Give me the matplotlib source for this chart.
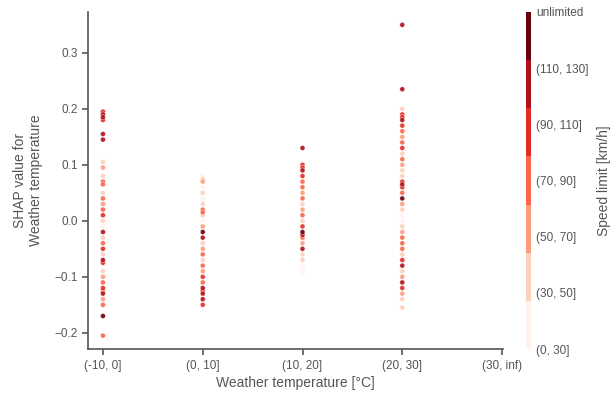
import numpy as np
import matplotlib
matplotlib.use("Agg")
import matplotlib.pyplot as plt
from matplotlib.colors import ListedColormap, Normalize
import matplotlib.cm as cm

plt.rcParams['font.family'] = ['Liberation Sans', 'DejaVu Sans']

temp_bins = ["(-10, 0]", "(0, 10]", "(10, 20]", "(20, 30]", "(30, inf)"]
speed_labels = ["(0, 30]", "(30, 50]", "(50, 70]", "(70, 90]", "(90, 110]", "(110, 130]", "unlimited"]

# SHAP values and speed-limit category index per temperature bin
shap_m10_0 = [0.195, 0.19, 0.185, 0.18, 0.155, 0.145, 0.105, 0.095, 0.08, 0.07, 0.065, 0.05, 0.04, 0.03,
              0.02, 0.01, 0.0, -0.01, -0.02, -0.03, -0.04, -0.05, -0.06, -0.07, -0.075, -0.09, -0.10,
              -0.11, -0.12, -0.125, -0.13, -0.14, -0.15, -0.17, -0.205]
speed_m10_0 = [4, 5, 5, 4, 5, 5, 1, 2, 1, 3, 3, 1, 3, 2, 3, 4, 1, 0, 5, 1, 3, 4, 1, 5, 4, 1, 2, 3, 4, 3,
               5, 2, 3, 6, 3]

shap_0_10 = [0.08, 0.075, 0.07, 0.06, 0.05, 0.04, 0.03, 0.02, 0.015, 0.01, 0.0, -0.01, -0.02, -0.03,
             -0.04, -0.05, -0.06, -0.07, -0.08, -0.09, -0.10, -0.11, -0.12, -0.125, -0.13, -0.14, -0.15]
speed_0_10 = [0, 1, 2, 0, 1, 0, 1, 3, 3, 1, 0, 2, 6, 5, 1, 2, 3, 1, 3, 2, 4, 3, 5, 4, 5, 5, 4]

shap_10_20 = [0.13, 0.10, 0.095, 0.09, 0.08, 0.07, 0.06, 0.05, 0.04, 0.03, 0.02, 0.01, 0.0, -0.01,
              -0.02, -0.025, -0.03, -0.04, -0.05, -0.06, -0.07, -0.08, -0.09]
speed_10_20 = [5, 4, 4, 5, 4, 3, 3, 2, 3, 1, 2, 3, 1, 4, 6, 5, 3, 2, 5, 1, 1, 0, 0]

shap_20_30 = [0.35, 0.235, 0.20, 0.19, 0.185, 0.18, 0.17, 0.16, 0.15, 0.14, 0.13, 0.12, 0.11, 0.10,
              0.09, 0.08, 0.07, 0.065, 0.06, 0.05, 0.04, 0.03, 0.02, 0.01, 0.0, -0.01, -0.02, -0.03,
              -0.04, -0.05, -0.06, -0.07, -0.08, -0.09, -0.10, -0.11, -0.12, -0.13, -0.14, -0.155]
speed_20_30 = [5, 5, 1, 4, 4, 5, 4, 3, 2, 3, 4, 1, 3, 2, 1, 1, 4, 5, 4, 3, 6, 2, 1, 0, 0, 1, 2, 3,
               3, 3, 1, 4, 5, 1, 2, 5, 4, 2, 1, 1]

shap_30_inf = []
speed_30_inf = []

groups = [(shap_m10_0, speed_m10_0), (shap_0_10, speed_0_10), (shap_10_20, speed_10_20),
          (shap_20_30, speed_20_30), (shap_30_inf, speed_30_inf)]

colors = plt.get_cmap('Reds')(np.linspace(0.02, 1.0, 7))
cmap = ListedColormap(colors)
norm = Normalize(vmin=0, vmax=6)

txt = '#555555'
fig = plt.figure(figsize=(6.14, 3.98), dpi=100)
ax = fig.add_axes([0.1433, 0.123, 0.676, 0.847])

for i, (vals, spd) in enumerate(groups):
    if not vals:
        continue
    order = np.argsort(spd)
    v = np.array(vals)[order]
    s = np.array(spd)[order]
    ax.scatter(np.full(len(v), i), v, c=[colors[k] for k in s], s=13, linewidths=0.3,
               edgecolors='white', alpha=0.9, zorder=3)

ax.set_xlim(-0.15, 4.01)
ax.set_ylim(-0.229, 0.373)
ax.set_xticks(range(len(temp_bins)))
ax.set_xticklabels(temp_bins)
ax.set_yticks([-0.2, -0.1, 0.0, 0.1, 0.2, 0.3])
ax.set_yticklabels(['\u22120.2', '\u22120.1', '0.0', '0.1', '0.2', '0.3'])
for sp in ['top', 'right']:
    ax.spines[sp].set_visible(False)
for sp in ['left', 'bottom']:
    ax.spines[sp].set_color('#555555')
    ax.spines[sp].set_linewidth(1.2)
ax.tick_params(axis='both', colors='#555555', labelcolor=txt, labelsize=8.5, length=4, width=1.2)
ax.tick_params(axis='x', pad=4)
ax.set_xlabel('Weather temperature [°C]', color=txt, fontsize=10, labelpad=3)
ax.set_ylabel('SHAP value for\nWeather temperature', color=txt, fontsize=10, labelpad=8)

cax = fig.add_axes([0.8567, 0.123, 0.008, 0.847])
cb = fig.colorbar(cm.ScalarMappable(norm=norm, cmap=cmap), cax=cax)
cb.outline.set_visible(False)
cb.set_ticks(range(7))
cb.set_ticklabels(speed_labels)
cax.tick_params(length=0, labelsize=8.5, labelcolor=txt, pad=4)
cb.set_label('Speed limit [km/h]', color=txt, fontsize=10, labelpad=6)

fig.savefig('out.png', dpi=100)
